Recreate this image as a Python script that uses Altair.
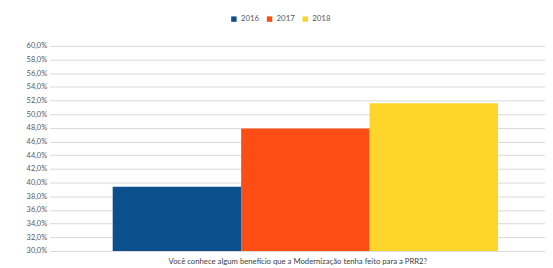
import altair as alt
import pandas as pd

years = ["2016", "2017", "2018"]
values = [39.4, 47.9, 51.6]
colors = ["#0b4f8c", "#fc4e14", "#fed52b"]
question = "Você conhece algum benefício que a Modernização tenha feito para a PRR2?"
y_ticks = [30, 32, 34, 36, 38, 40, 42, 44, 46, 48, 50, 52, 54, 56, 58, 60]

df = pd.DataFrame({"ano": years, "valor": values})

chart = alt.Chart(df).mark_bar(clip=True).encode(
    x=alt.X("ano:N",
            scale=alt.Scale(paddingInner=0, paddingOuter=0.4286, align=0.573),
            axis=alt.Axis(title=question, labels=False, ticks=False, domain=False,
                          titleFontSize=7.8, titleFontWeight="normal", titleColor="#404040",
                          titlePadding=7, titleFont="Lato")),
    y=alt.Y("valor:Q",
            scale=alt.Scale(domain=[30, 60], nice=False, zero=False),
            axis=alt.Axis(title=None, values=y_ticks,
                          labelExpr="replace(format(datum.value, '.1f'), '.', ',') + '%'",
                          labelFontSize=7.5, labelColor="#595959", labelFont="Lato",
                          labelPadding=3, ticks=False, domain=False,
                          gridColor="#d9d9d9", gridWidth=1)),
    color=alt.Color("ano:N",
                    scale=alt.Scale(domain=years, range=colors),
                    legend=alt.Legend(title=None, orient="none", direction="horizontal",
                                      legendX=182, legendY=-31, symbolType="square",
                                      symbolSize=30, labelFontSize=8, labelColor="#595959",
                                      labelFont="Lato", labelOffset=3, columnPadding=6,
                                      padding=0)),
).properties(
    width=500,
    height=207,
    autosize=alt.AutoSizeParams(type="none"),
    padding={"left": 42, "top": 37, "right": 0, "bottom": 16},
).configure_view(stroke=None)

chart.save("out.html", embed_options={"renderer": "svg", "actions": False})
